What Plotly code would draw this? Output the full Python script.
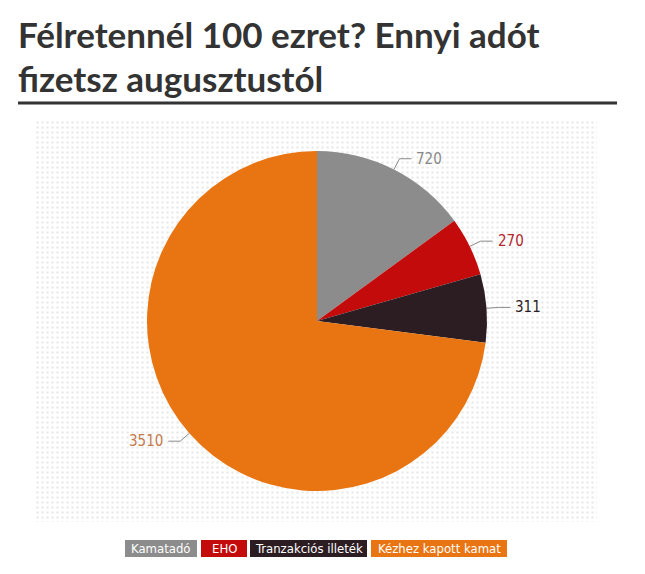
import math
import plotly.graph_objects as go

W, H = 645, 574
OFF = 8  # page body margin

LABELS = ["Kamatadó", "EHO", "Tranzakciós illeték", "Kézhez kapott kamat"]
VALUES = [720, 270, 311, 3510]
COLORS = ["#8c8c8c", "#c40b0b", "#2b1d22", "#e87511"]
TEXT_COLORS = ["#888888", "#b3262b", "#2b1d22", "#c47a4c"]

TITLE_1 = "Félretennél 100 ezret? Ennyi adót"
TITLE_2 = "fizetsz augusztustól"

# pie geometry in pixels
CX, CY, R = 317, 321, 170
NARROW = "DejaVu Sans Condensed, Liberation Sans Narrow, sans-serif"


def px(x):
    return (x - OFF) / W


def py(y):
    return 1 - (y - OFF) / H


fig = go.Figure()

# dotted backdrop
fig.add_trace(go.Bar(
    x=[0], y=[1], width=1,
    marker=dict(color="white", line_width=0,
                pattern=dict(shape=".", size=5, solidity=0.2,
                             fgcolor="#d6d6d6", bgcolor="white")),
    hoverinfo="skip", showlegend=False,
))

fig.add_trace(go.Pie(
    labels=LABELS, values=VALUES,
    marker=dict(colors=COLORS, line=dict(width=0)),
    sort=False, direction="clockwise", rotation=0,
    textinfo="none", showlegend=False,
    domain=dict(x=[px(CX - R), px(CX + R)], y=[py(CY + R), py(CY - R)]),
))

shapes = []
annotations = []

# leader lines and value labels
total = sum(VALUES)
start = 0.0
for v, tc in zip(VALUES, TEXT_COLORS):
    span = v / total * 360
    mid = math.radians(start + span / 2)
    start += span
    sx, sy = math.sin(mid), -math.cos(mid)
    ex, ey = CX + R * sx, CY + R * sy
    bx, by = CX + (R + 12) * sx, CY + (R + 12) * sy
    side = 1 if sx >= 0 else -1
    hx = bx + side * 12
    shapes.append(dict(type="path", xref="paper", yref="paper",
                       path=f"M {px(ex)},{py(ey)} L {px(bx)},{py(by)} L {px(hx)},{py(by)}",
                       line=dict(color="#8a8a8a", width=1)))
    annotations.append(dict(x=px(hx + side * 3), y=py(by), xref="paper", yref="paper",
                            text=str(v), showarrow=False,
                            xanchor="left" if side > 0 else "right", yanchor="middle",
                            font=dict(family=NARROW, size=15, color=tc)))

# title
annotations.append(dict(x=px(16), y=py(34), xref="paper", yref="paper", text=TITLE_1,
                        showarrow=False, xanchor="left", yanchor="middle",
                        font=dict(family="Lato", size=35, color="#333333", weight="bold")))
annotations.append(dict(x=px(16), y=py(78), xref="paper", yref="paper", text=TITLE_2,
                        showarrow=False, xanchor="left", yanchor="middle",
                        font=dict(family="Lato", size=35, color="#333333", weight="bold")))
shapes.append(dict(type="line", xref="paper", yref="paper",
                   x0=px(18), x1=px(617), y0=py(103), y1=py(103),
                   line=dict(color="#333333", width=3)))

# legend boxes
box_x = [125, 201, 250, 371]
box_w = [72, 46, 117, 136]
for lab, col, x0, w in zip(LABELS, COLORS, box_x, box_w):
    shapes.append(dict(type="rect", xref="paper", yref="paper",
                       x0=px(x0), x1=px(x0 + w), y0=py(557), y1=py(540),
                       fillcolor=col, line_width=0))
    annotations.append(dict(x=px(x0 + w / 2), y=py(548.5), xref="paper", yref="paper",
                            text=lab, showarrow=False, xanchor="center", yanchor="middle",
                            font=dict(family=NARROW, size=13, color="white")))

fig.update_layout(
    width=W, height=H,
    margin=dict(l=0, r=0, t=0, b=0),
    paper_bgcolor="white", plot_bgcolor="white",
    xaxis=dict(domain=[px(35), px(597)], range=[-0.5, 0.5], visible=False, fixedrange=True),
    yaxis=dict(domain=[py(522), py(120)], range=[0, 1], visible=False, fixedrange=True),
    bargap=0,
    shapes=shapes,
    annotations=annotations,
)

fig.write_html("out.html")
